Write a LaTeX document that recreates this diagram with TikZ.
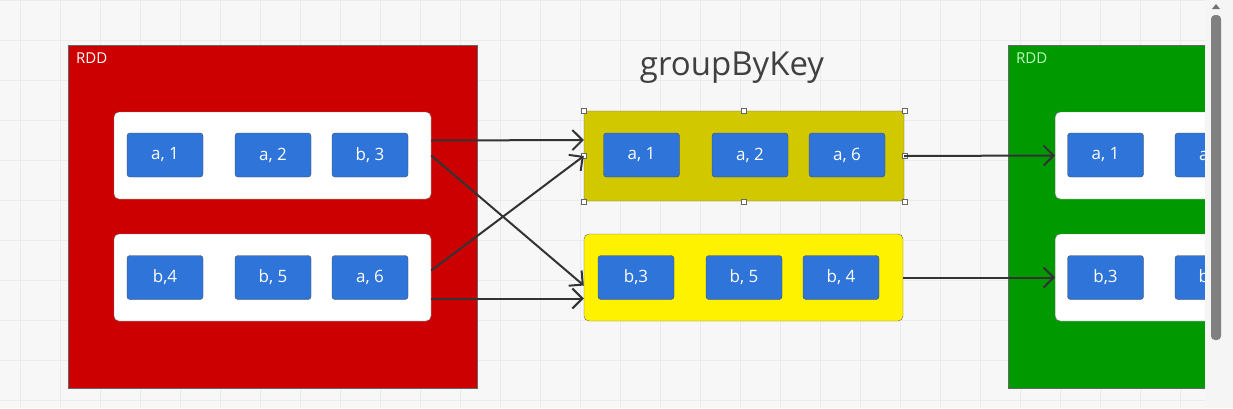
\documentclass[tikz,border=0pt]{standalone}
\usepackage{fontspec}
\setmainfont{Open Sans}
\usetikzlibrary{arrows.meta}
\definecolor{rddred}{HTML}{CC0000}
\definecolor{rddgreen}{HTML}{009900}
\definecolor{cellblue}{HTML}{2F74D9}
\definecolor{olivebox}{HTML}{D2C800}
\definecolor{gridbg}{HTML}{F7F7F7}
\definecolor{gridline}{HTML}{EBEBEB}
\definecolor{linegray}{HTML}{333333}
\begin{document}
\begin{tikzpicture}[x=1pt,y=-1pt,
  rdd/.style={draw=black!60,minimum width=409pt,minimum height=343pt,inner sep=0pt},
  part/.style={draw=black!50,fill=white,rounded corners=5pt,minimum width=317pt,minimum height=87pt,inner sep=0pt},
  cell/.style={draw=black!70,fill=cellblue,rounded corners=3pt,minimum width=76pt,minimum height=44pt,
    inner sep=0pt,text=white,font=\fontsize{17}{19}\selectfont},
  handle/.style={draw=black!60,fill=white,minimum size=5pt,inner sep=0pt},
  conn/.style={draw=linegray,line width=2pt,-{Straight Barb[length=10pt,width=20pt,line width=2pt]}}]
  \useasboundingbox (0,0) rectangle (1233,408);
  \fill[gridbg] (0,0) rectangle (1233,408);
  \foreach \gx in {20,60,...,1200} \draw[gridline,line width=0.8pt] (\gx,0) -- (\gx,408);
  \foreach \gy in {0,40,...,400} \draw[gridline,line width=0.8pt] (0,\gy) -- (1205,\gy);

  % source RDD
  \node[rdd,fill=rddred] (src) at (272.5,216.5) {};
  \node[anchor=north west,inner sep=0pt,text=white,font=\fontsize{15}{17}\selectfont] (srclbl) at (76,53) {RDD};
  \node[part] (p1) at (272.5,155.5) {};
  \node[part] (p2) at (272.5,277.5) {};
  \node[cell] (a1) at (165,155) {a, 1};
  \node[cell] (a2) at (273,155) {a, 2};
  \node[cell] (b3) at (370,155) {b, 3};
  \node[cell] (b4) at (165,277.5) {b,4};
  \node[cell] (b5) at (273,277.5) {b, 5};
  \node[cell] (a6) at (370,277.5) {a, 6};

  % groupByKey
  \node[text=black!75,font=\fontsize{33}{35}\selectfont] (title) at (732,68) {groupByKey};
  \node[draw=black!60,fill=olivebox,rounded corners=3pt,minimum width=320pt,minimum height=90pt] (ga) at (744,156) {};
  \node[draw=black!60,fill=yellow,rounded corners=5pt,minimum width=319pt,minimum height=87pt] (gb) at (743.5,277.5) {};
  \node[cell] (ga1) at (641.5,155) {a, 1};
  \node[cell] (ga2) at (750,155) {a, 2};
  \node[cell] (ga6) at (847,155) {a, 6};
  \node[cell] (gb3) at (636,277.5) {b,3};
  \node[cell] (gb5) at (744,277.5) {b, 5};
  \node[cell] (gb4) at (841,277.5) {b, 4};
  \foreach \h in {north west,north,north east,west,east,south west,south,south east}
    \node[handle] at (ga.\h) {};

  % result RDD (cut off at the right)
  \begin{scope}
    \clip (0,0) rectangle (1205,408);
    \node[rdd,fill=rddgreen,anchor=north west] (dst) at (1008,45) {};
    \node[anchor=north west,inner sep=0pt,text=green!25,font=\fontsize{15}{17}\selectfont] (dstlbl) at (1016,53) {RDD};
    \node[part,anchor=west] (q1) at (1055,155.5) {};
    \node[part,anchor=west] (q2) at (1055,277.5) {};
    \node[cell] (ra1) at (1105.5,155) {a, 1};
    \node[cell] (ra2) at (1213,155) {a, 2};
    \node[cell] (rb3) at (1105.5,277.5) {b,3};
    \node[cell] (rb5) at (1213,277.5) {b, 5};
  \end{scope}

  % scroll bar
  \fill[black!4] (1205,0) rectangle (1233,408);
  \fill[black!50,rounded corners=4pt] (1211,15) rectangle (1221,340);
  \fill[black!55] (1212,9) -- (1220,9) -- (1216,4) -- cycle;

  \draw[conn] ([yshift=15pt]p1.east) -- ([yshift=16pt]ga.west);
  \draw[conn] (p1.east) -- ([yshift=-8pt]gb.west);
  \draw[conn] ([yshift=7pt]p2.east) -- (ga.west);
  \draw[conn] ([yshift=-21pt]p2.east) -- ([yshift=-21pt]gb.west);
  \draw[conn] (ga.east) -- (q1.west);
  \draw[conn] (gb.east) -- (q2.west);
\end{tikzpicture}
\end{document}
